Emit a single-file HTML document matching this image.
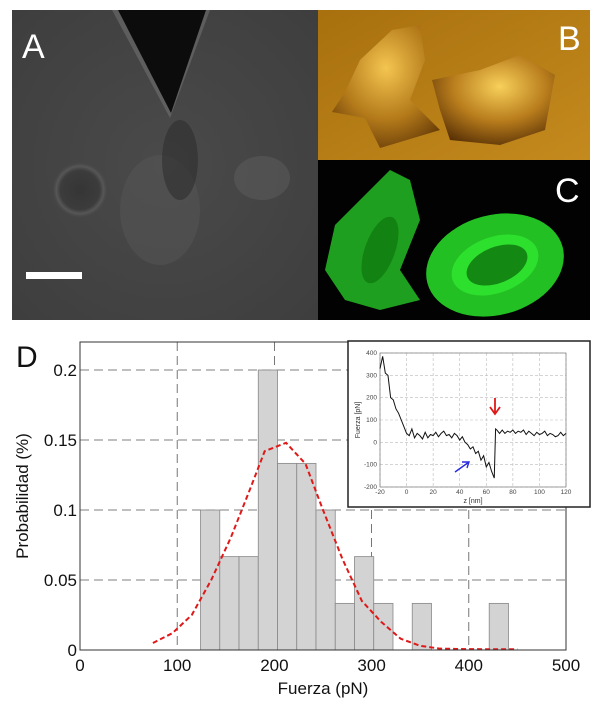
<!DOCTYPE html>
<html><head><meta charset="utf-8"><style>
body{margin:0;background:#fff;font-family:"Liberation Sans",sans-serif}
svg{display:block}
</style></head><body>
<svg width="604" height="704" viewBox="0 0 604 704">
<defs>
<radialGradient id="gA" cx="0.5" cy="0.5" r="0.7"><stop offset="0" stop-color="#4a4a4a"/><stop offset="1" stop-color="#3e3e3e"/></radialGradient>
<radialGradient id="halo" cx="0.5" cy="0.5" r="0.5"><stop offset="0" stop-color="#353535"/><stop offset="0.7" stop-color="#3c3c3c"/><stop offset="0.85" stop-color="#575757"/><stop offset="1" stop-color="#474747" stop-opacity="0"/></radialGradient>
<linearGradient id="gB" x1="0" y1="0" x2="1" y2="1"><stop offset="0" stop-color="#a8700e"/><stop offset="1" stop-color="#c48a1e"/></linearGradient>
<radialGradient id="cell1" cx="0.5" cy="0.35" r="0.7"><stop offset="0" stop-color="#f4c550"/><stop offset="0.6" stop-color="#b47a1a"/><stop offset="1" stop-color="#6a3e08"/></radialGradient>
<radialGradient id="cell2" cx="0.55" cy="0.35" r="0.7"><stop offset="0" stop-color="#f8d05a"/><stop offset="0.55" stop-color="#b87c1c"/><stop offset="1" stop-color="#5a3206"/></radialGradient>
<radialGradient id="gr" cx="0.5" cy="0.5" r="0.5"><stop offset="0" stop-color="#1b8a1b"/><stop offset="0.8" stop-color="#2fc72f"/><stop offset="1" stop-color="#118811"/></radialGradient>
</defs>

<g>
<rect x="12" y="10" width="306" height="310" fill="url(#gA)"/>
<circle cx="80" cy="190" r="28" fill="url(#halo)"/>
<polygon points="112,10 210,10 170,118" fill="#777" opacity="0.5"/>
<polygon points="118,10 206,10 171,113" fill="#0c0c0c"/>
<ellipse cx="160" cy="210" rx="40" ry="55" fill="#555" opacity="0.5"/>
<ellipse cx="180" cy="160" rx="18" ry="40" fill="#2e2e2e" opacity="0.6"/>
<ellipse cx="262" cy="178" rx="28" ry="22" fill="#5a5a5a" opacity="0.6"/>
<rect x="26" y="272" width="56" height="7" fill="#fff"/>
<text x="22" y="58" font-size="34" fill="#fff">A</text>
</g>

<g>
<rect x="318" y="10" width="272" height="150" fill="url(#gB)"/>
<path d="M392,30 L420,25 L425,60 L410,100 L440,130 L380,148 L365,118 L332,112 L345,92 L360,60 Z" fill="url(#cell1)"/>
<path d="M432,80 L480,70 L520,55 L555,75 L545,130 L500,145 L450,140 L440,110 Z" fill="url(#cell2)"/>
<text x="558" y="50" font-size="34" fill="#fff">B</text>
</g>

<g>
<rect x="318" y="160" width="272" height="160" fill="#020202"/>
<path d="M335,225 L360,200 L390,170 L410,180 L420,220 L400,270 L420,300 L380,310 L345,300 L325,270 Z" fill="#22b022" opacity="0.9"/>
<ellipse cx="380" cy="250" rx="15" ry="35" fill="#128212" transform="rotate(20 380 250)"/>
<ellipse cx="495" cy="265" rx="70" ry="50" fill="#22c022" transform="rotate(-15 495 265)"/>
<ellipse cx="495" cy="265" rx="45" ry="28" fill="#2ee02e" transform="rotate(-20 495 265)"/>
<ellipse cx="497" cy="265" rx="32" ry="18" fill="#138913" transform="rotate(-22 497 265)"/>
<text x="555" y="202" font-size="34" fill="#fff">C</text>
</g>

<g id="chart"></g>
<g id="inset"></g>
</svg>
<script>
const binStart = 124, binWidth = 19.8;
const binValues = [0.1,0.0667,0.0667,0.2,0.1333,0.1333,0.1,0.0333,0.0667,0.0333,0,0.0333,0,0,0,0.0333];
const fitX = [75,95,115,135,155,175,190,212,232,250,270,290,310,330,350,370,400,450];
const fitY = [0.005,0.012,0.025,0.05,0.08,0.115,0.142,0.148,0.133,0.1,0.065,0.035,0.02,0.008,0.003,0.001,0.0006,0.0005];
const xTicks = [0,100,200,300,400,500];
const yTicks = [0,0.05,0.1,0.15,0.2];
const yTickLabels = ["0","0.05","0.1","0.15","0.2"];
const insetZ = [-20,-18,-16,-14,-12,-10,-8,-6,-4,-2,0,2,4,6,8,10,12,14,16,18,20,22,24,26,28,30,32,34,36,38,40,42,44,46,48,50,52,54,56,58,60,62,64,66,67,68,70,72,74,76,78,80,82,84,86,88,90,92,94,96,98,100,102,104,106,108,110,112,114,116,118,120];
const insetF = [330,385,310,300,200,190,150,130,100,70,40,30,60,20,40,30,15,45,20,35,30,45,25,40,50,30,35,20,40,30,10,25,0,-10,-30,-20,-50,-40,-80,-60,-110,-90,-130,-160,60,55,40,55,40,50,45,55,40,50,45,55,35,50,40,30,45,35,40,50,30,40,35,25,30,45,30,40];
const insetXTicks = [-20,0,20,40,60,80,100,120];
const insetYTicks = [-200,-100,0,100,200,300,400];

const NS="http://www.w3.org/2000/svg";
function mk(p,tag,attrs,txt){const e=document.createElementNS(NS,tag);for(const k in attrs)e.setAttribute(k,attrs[k]);if(txt!==undefined)e.textContent=txt;p.appendChild(e);return e;}
const X=v=>80+v*0.972, Y=p=>650-p*1400;
const c=document.getElementById('chart');
mk(c,'rect',{x:80,y:342,width:486,height:308,fill:'#fff'});
for(const t of xTicks.slice(1,-1)){const l=mk(c,'line',{x1:X(t),x2:X(t),y1:342,y2:650,stroke:'#555','stroke-width':0.8,'stroke-dasharray':'9,5'});

}
for(const t of yTicks.slice(1)){const l=mk(c,'line',{x1:80,x2:566,y1:Y(t),y2:Y(t),stroke:'#555','stroke-width':0.8,'stroke-dasharray':'9,5'});

}
binValues.forEach((v,i)=>{if(v<=0)return;const x0=X(binStart+i*binWidth),x1=X(binStart+(i+1)*binWidth);
const r=mk(c,'rect',{x:x0,y:Y(v),width:x1-x0,height:650-Y(v),fill:'#d3d3d3',stroke:'#888','stroke-width':0.8});

});
const fit=mk(c,'polyline',{points:fitX.map((x,i)=>X(x)+','+Y(fitY[i])).join(' '),fill:'none',stroke:'#e01818','stroke-width':2,'stroke-dasharray':'5,3'});


mk(c,'rect',{x:80,y:342,width:486,height:308,fill:'none',stroke:'#333','stroke-width':1});
xTicks.forEach(t=>{const e=mk(c,'text',{x:X(t),y:671,'font-size':17,'text-anchor':'middle',fill:'#111'},String(t));

});
yTicks.forEach((t,i)=>{const e=mk(c,'text',{x:77,y:Y(t)+6,'font-size':17,'text-anchor':'end',fill:'#111'},yTickLabels[i]);

});
let e=mk(c,'text',{x:323,y:694,'font-size':17,'text-anchor':'middle',fill:'#111'},'Fuerza (pN)');


e=mk(c,'text',{x:0,y:0,'font-size':17,'text-anchor':'middle',fill:'#111',transform:'translate(28,496) rotate(-90)'},'Probabilidad (%)');


e=mk(c,'text',{x:16,y:367,'font-size':30,fill:'#111'},'D');



// inset
const g=document.getElementById('inset');
const IX=z=>380+(z+20)*(186/140), IY=f=>487-(f+200)*(134/600);
mk(g,'rect',{x:348,y:341,width:242,height:166,fill:'#fff',stroke:'#222','stroke-width':1.5});
insetXTicks.forEach(t=>{const l=mk(g,'line',{x1:IX(t),x2:IX(t),y1:353,y2:487,stroke:'#bbb','stroke-width':0.6,'stroke-dasharray':'3,2'});


const tx=mk(g,'text',{x:IX(t),y:494,'font-size':6.5,'text-anchor':'middle',fill:'#444'},String(t));

});
insetYTicks.forEach(t=>{const l=mk(g,'line',{x1:380,x2:566,y1:IY(t),y2:IY(t),stroke:'#bbb','stroke-width':0.6,'stroke-dasharray':'3,2'});


const tx=mk(g,'text',{x:377,y:IY(t)+2,'font-size':6.5,'text-anchor':'end',fill:'#444'},String(t));

});
mk(g,'rect',{x:380,y:353,width:186,height:134,fill:'none',stroke:'#777','stroke-width':0.7});
const tr=mk(g,'polyline',{points:insetZ.map((z,i)=>IX(z)+','+IY(insetF[i])).join(' '),fill:'none',stroke:'#111','stroke-width':1});


e=mk(g,'text',{x:473,y:503,'font-size':7,'text-anchor':'middle',fill:'#333'},'z [nm]');


e=mk(g,'text',{x:0,y:0,'font-size':7,'text-anchor':'middle',fill:'#333',transform:'translate(360,420) rotate(-90)'},'Fuerza [pN]');


e=mk(g,'path',{d:'M495,398 L495,413 M490,407 L495,414 L500,407',stroke:'#e01818','stroke-width':1.8,fill:'none'});


e=mk(g,'path',{d:'M455,472 L469,462 M462,462 L469,462 L467,468',stroke:'#2a2ae0','stroke-width':1.4,fill:'none'});


</script>
</body></html>
